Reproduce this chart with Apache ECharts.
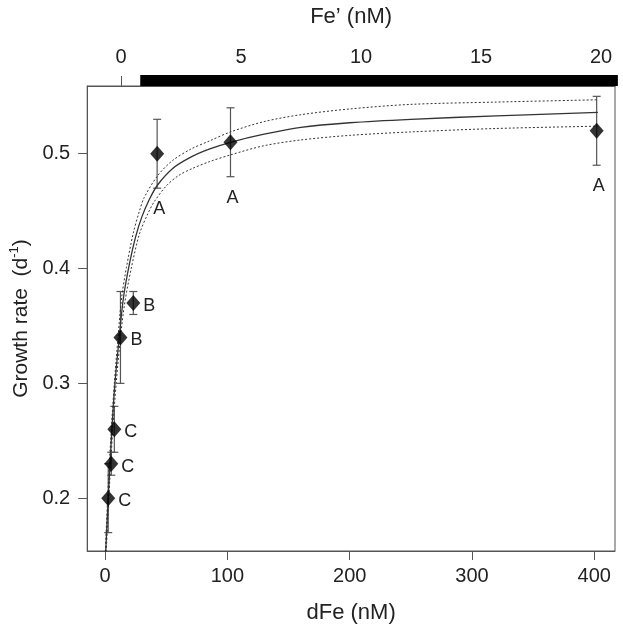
<!DOCTYPE html>
<html>
<head>
<meta charset="utf-8">
<script src="https://cdn.jsdelivr.net/npm/echarts@6/dist/echarts.min.js"></script>
<style>
  html, body { margin: 0; background: #fff; }
  #chart { width: 623px; height: 634px; }
</style>
</head>
<body>
<div id="chart"></div>
<script>
  // measured points (dFe in nM, growth rate in d-1)
  const dFe = [2.5, 5, 7.5, 12.5, 23, 42.5, 102.5, 402]
  const rate = [0.2, 0.23, 0.26, 0.34, 0.37, 0.5, 0.51, 0.52]
  const errLow = [0.17, 0.22, 0.24, 0.3, 0.36, 0.47, 0.48, 0.49]
  const errHigh = [0.23, 0.24, 0.28, 0.38, 0.38, 0.53, 0.54, 0.55]
  const letters = ['C', 'C', 'C', 'B', 'B', 'A', 'A', 'A']

  // fitted curve and its confidence band
  const fitLine = [[0.3, 0.15], [2.5, 0.2], [5.5, 0.26], [8, 0.3], [11.5, 0.34], [15, 0.375], [20, 0.405],
    [25, 0.428], [30, 0.445], [36, 0.46], [43, 0.473], [55, 0.487], [70, 0.497], [85, 0.504], [102.5, 0.51],
    [130, 0.517], [160, 0.523], [200, 0.527], [250, 0.53], [320, 0.533], [403, 0.536]]
  const upperLine = [[0, 0.15], [2, 0.2], [5, 0.26], [7.5, 0.3], [10.5, 0.34], [13.5, 0.375], [17.4, 0.401],
    [23, 0.431], [28, 0.45], [32, 0.462], [43, 0.481], [55, 0.494], [70, 0.504], [85, 0.511], [102.5, 0.519],
    [130, 0.528], [160, 0.534], [200, 0.539], [250, 0.543], [320, 0.545], [403, 0.547]]
  const lowerLine = [[0.7, 0.15], [3, 0.2], [6.2, 0.26], [9, 0.3], [12.5, 0.34], [16, 0.37], [21.3, 0.4],
    [28, 0.43], [35, 0.448], [40, 0.458], [50, 0.472], [60, 0.481], [71, 0.487], [85, 0.493], [102.5, 0.499],
    [130, 0.507], [160, 0.512], [200, 0.516], [250, 0.519], [320, 0.522], [403, 0.524]]

  // tick labels
  const xTicks = [0, 100, 200, 300, 400]
  const yTicks = [0.2, 0.3, 0.4, 0.5]
  const feTicks = [0, 5, 10, 15, 20]
  // range of Fe' covered by the black bar on top
  const feBar = [0.8, 20.7]

  const font = '"Liberation Sans", Arial, sans-serif'
  const ink = '#222'
  const axisGray = '#555'

  let chart = echarts.init(document.getElementById('chart'))

  chart.setOption({
    backgroundColor: '#fff',
    animation: false,
    textStyle: { fontFamily: font, color: ink },
    grid: {
      left: 85, right: 8, top: 86, bottom: 83,
      show: true, borderColor: axisGray, borderWidth: 1
    },
    xAxis: [
      {
        type: 'value',
        min: -14.7, max: 417,
        name: 'dFe (nM)',
        nameLocation: 'middle',
        nameGap: 51,
        nameTextStyle: { fontSize: 22, color: ink },
        axisLine: { show: true, onZero: false, lineStyle: { color: axisGray } },
        axisTick: { show: true, length: 9, lineStyle: { color: axisGray }, customValues: xTicks },
        axisLabel: { fontSize: 20, color: ink, margin: 15, customValues: xTicks },
        splitLine: { show: false }
      },
      {
        type: 'value',
        position: 'top',
        min: -1.41, max: 20.58,
        name: 'Fe’ (nM)',
        nameLocation: 'middle',
        nameGap: 58,
        nameTextStyle: { fontSize: 22, color: ink },
        axisLine: { show: true, onZero: false, lineStyle: { color: axisGray } },
        axisTick: { show: true, length: 10, lineStyle: { color: axisGray }, customValues: feTicks },
        axisLabel: { fontSize: 20, color: ink, margin: 19, customValues: feTicks },
        splitLine: { show: false }
      }
    ],
    yAxis: {
      type: 'value',
      min: 0.154, max: 0.559,
      name: '{t|Growth rate  (d}{s|-1}{t|)}',
      nameLocation: 'middle',
      nameGap: 37,
      nameTextStyle: {
        rich: {
          t: { fontSize: 21, color: ink, fontFamily: font, lineHeight: 26 },
          s: { fontSize: 13, color: ink, fontFamily: font, verticalAlign: 'top', lineHeight: 26 }
        }
      },
      axisLine: { show: true, onZero: false, lineStyle: { color: axisGray } },
      axisTick: { show: true, length: 9, lineStyle: { color: axisGray }, customValues: yTicks },
      axisLabel: {
        fontSize: 20, color: ink, margin: 17, customValues: yTicks,
        formatter: v => v.toFixed(1)
      },
      splitLine: { show: false }
    },
    series: [
      {
        // black bar above the plot
        type: 'custom',
        xAxisIndex: 1,
        clip: false,
        silent: true,
        data: [feBar],
        renderItem(params, api) {
          let x0 = api.coord([api.value(0), 0.3])[0]
          let x1 = api.coord([api.value(1), 0.3])[0]
          let top = params.coordSys.y
          return {
            type: 'rect',
            shape: { x: x0, y: top - 11, width: x1 - x0, height: 11 },
            style: { fill: '#000' }
          }
        },
        z: 10
      },
      {
        name: 'upper',
        type: 'line',
        data: upperLine,
        showSymbol: false,
        smooth: 0.3,
        lineStyle: { color: '#333', width: 1, type: [2, 2] }
      },
      {
        name: 'fit',
        type: 'line',
        data: fitLine,
        showSymbol: false,
        smooth: 0.3,
        lineStyle: { color: '#333', width: 1.3 }
      },
      {
        name: 'lower',
        type: 'line',
        data: lowerLine,
        showSymbol: false,
        smooth: 0.3,
        lineStyle: { color: '#333', width: 1, type: [2, 2] }
      },
      {
        // error bars and group letters
        type: 'custom',
        clip: false,
        data: dFe.map((x, i) => [x, errLow[i], errHigh[i], rate[i]]),
        renderItem(params, api) {
          let lo = api.coord([api.value(0), api.value(1)])
          let hi = api.coord([api.value(0), api.value(2)])
          let pt = api.coord([api.value(0), api.value(3)])
          let cap = 4
          let stroke = { stroke: '#555', lineWidth: 1.2 }
          let letter = letters[params.dataIndex]
          let label = letter === 'A'
            ? { x: lo[0] + 2, y: lo[1] + 21, align: 'center' }
            : { x: pt[0] + 10, y: pt[1] + 3, align: 'left' }
          return {
            type: 'group',
            children: [
              { type: 'line', shape: { x1: lo[0], y1: lo[1], x2: hi[0], y2: hi[1] }, style: stroke },
              { type: 'line', shape: { x1: lo[0] - cap, y1: lo[1], x2: lo[0] + cap, y2: lo[1] }, style: stroke },
              { type: 'line', shape: { x1: hi[0] - cap, y1: hi[1], x2: hi[0] + cap, y2: hi[1] }, style: stroke },
              {
                type: 'text',
                style: {
                  text: letter, x: label.x, y: label.y,
                  align: label.align, verticalAlign: 'middle',
                  fontSize: 18, fontFamily: font, fill: ink
                }
              }
            ]
          }
        },
        z: 3
      },
      {
        type: 'scatter',
        data: dFe.map((x, i) => [x, rate[i]]),
        symbol: 'diamond',
        symbolSize: [14, 16],
        itemStyle: { color: '#000' },
        z: 5
      }
    ]
  })
</script>
</body>
</html>
